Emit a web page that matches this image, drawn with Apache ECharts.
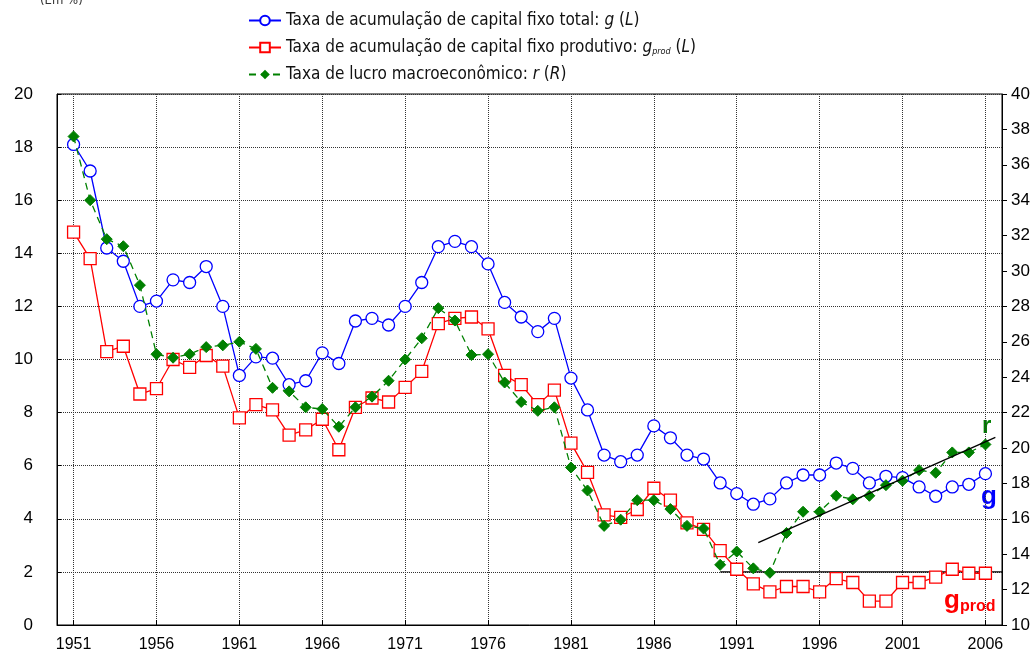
<!DOCTYPE html>
<html>
<head>
<meta charset="utf-8">
<script src="https://cdn.jsdelivr.net/npm/echarts@6/dist/echarts.min.js"></script>
<style>
  html, body { margin: 0; padding: 0; background: #fff; }
  #chart { width: 1034px; height: 658px; }
</style>
</head>
<body>
<div id="chart"></div>
<script>
// anos 1951-2006
var years = [];
for (var y = 1951; y <= 2006; y++) years.push(y);

// g : taxa de acumulação de capital fixo total (eixo esquerdo)
var gTotal = [18.1, 17.1, 14.2, 13.7, 12.0, 12.2, 13.0, 12.9, 13.5, 12.0,
  9.4, 10.1, 10.05, 9.05, 9.2, 10.25, 9.85, 11.45, 11.55, 11.3,
  12.0, 12.9, 14.25, 14.45, 14.25, 13.6, 12.15, 11.6, 11.05, 11.55,
  9.3, 8.1, 6.4, 6.15, 6.4, 7.5, 7.05, 6.4, 6.25, 5.35,
  4.95, 4.55, 4.75, 5.35, 5.65, 5.65, 6.1, 5.9, 5.35, 5.6,
  5.55, 5.2, 4.85, 5.2, 5.3, 5.7];

// g_prod : taxa de acumulação de capital fixo produtivo (eixo esquerdo)
var gProd = [14.8, 13.8, 10.3, 10.5, 8.7, 8.9, 10.0, 9.7, 10.15, 9.75,
  7.8, 8.3, 8.1, 7.15, 7.35, 7.75, 6.6, 8.2, 8.55, 8.4,
  8.95, 9.55, 11.35, 11.55, 11.6, 11.15, 9.4, 9.05, 8.3, 8.85,
  6.85, 5.75, 4.15, 4.05, 4.35, 5.15, 4.7, 3.85, 3.6, 2.8,
  2.1, 1.55, 1.25, 1.45, 1.45, 1.25, 1.75, 1.6, 0.9, 0.9,
  1.6, 1.6, 1.8, 2.1, 1.95, 1.95];

// r : taxa de lucro macroeconômico (eixo direito)
var rProfit = [37.6, 34.0, 31.8, 31.4, 29.2, 25.3, 25.1, 25.3, 25.7, 25.8,
  26.0, 25.6, 23.4, 23.2, 22.3, 22.2, 21.2, 22.3, 22.9, 23.8,
  25.0, 26.2, 27.9, 27.2, 25.25, 25.3, 23.7, 22.6, 22.1, 22.3,
  18.9, 17.6, 15.6, 15.95, 17.05, 17.05, 16.55, 15.6, 15.45, 13.4,
  14.15, 13.2, 12.95, 15.2, 16.4, 16.4, 17.3, 17.1, 17.3, 17.9,
  18.15, 18.75, 18.6, 19.75, 19.75, 20.2];

// retas de tendência
var rTrendX = [1992.3, 2006.6];
var rTrendY = [14.65, 20.6];
var gProdLevelX = [1990, 2007];
var gProdLevelY = [2, 2];

var leftTicks = { min: 0, max: 20, interval: 2 };
var rightTicks = { min: 10, max: 40, interval: 2 };

var categories = [];
for (var c = 1950; c <= 2007; c++) categories.push(String(c));

function pairs(vals) {
  return years.map(function (yr, i) { return [String(yr), vals[i]]; });
}
function xy(xs, ys) {
  return xs.map(function (x, i) { return [x, ys[i]]; });
}
var every5 = function (index, value) { return (Number(value) - 1951) % 5 === 0; };

var nameG = 'Taxa de acumulação de capital fixo total';
var nameP = 'Taxa de acumulação de capital fixo produtivo';
var nameR = 'Taxa de lucro macroeconômico';

var baseFont = 'Liberation Sans, Arial, sans-serif';
var narrowFont = 'Liberation Sans Narrow, Arial Narrow, DejaVu Sans Condensed, sans-serif';

var myChart = echarts.init(document.getElementById('chart'));
var option = {
  animation: false,
  backgroundColor: '#fff',
  grid: { left: 57, right: 32, top: 94, bottom: 33, show: true, borderColor: '#000', borderWidth: 1 },
  legend: {
    orient: 'vertical',
    left: 243,
    top: 7,
    itemWidth: 32,
    itemHeight: 12,
    itemGap: 10,
    data: [nameG, nameP, nameR],
    formatter: function (name) {
      if (name === nameG) return name + ': {i|g} ({i|L})';
      if (name === nameP) return name + ': {i|g}{s|prod} ({i|L})';
      return name + ': {i|r} ({i|R})';
    },
    textStyle: {
      fontFamily: narrowFont, fontSize: 17, color: '#111',
      rich: {
        i: { fontFamily: narrowFont, fontSize: 17, fontStyle: 'italic', color: '#111' },
        s: { fontFamily: narrowFont, fontSize: 9, fontStyle: 'italic', color: '#111', padding: [8, 0, 0, 0] }
      }
    }
  },
  graphic: [
    { type: 'text', left: 40, top: -6, style: { text: '(Em %)', font: '13px ' + narrowFont, fill: '#333' } },
    { type: 'text', left: 982, top: 414, style: { text: 'r', font: 'bold 24px ' + baseFont, fill: '#008000' } },
    { type: 'text', left: 981, top: 484, style: { text: 'g', font: 'bold 26px ' + baseFont, fill: '#0000ff' } },
    { type: 'text', left: 944, top: 588, style: {
        text: '{a|g}{b|prod}', fill: '#ff0000',
        rich: {
          a: { font: 'bold 26px ' + baseFont, fill: '#ff0000' },
          b: { font: 'bold 16px ' + baseFont, fill: '#ff0000', padding: [12, 0, 0, 0] }
        }
      } }
  ],
  xAxis: [
    {
      type: 'category',
      data: categories,
      boundaryGap: false,
      axisLine: { lineStyle: { color: '#000', width: 1 } },
      axisTick: { inside: true, length: 5, interval: every5, lineStyle: { color: '#000' } },
      axisLabel: { interval: every5, color: '#000', fontFamily: baseFont, fontSize: 16, margin: 12 },
      splitLine: { show: true, interval: every5, lineStyle: { color: '#333', type: 'dotted', width: 1 } }
    },
    { type: 'value', min: 1950, max: 2007, show: false }
  ],
  yAxis: [
    {
      type: 'value',
      min: leftTicks.min, max: leftTicks.max, interval: leftTicks.interval,
      axisLine: { show: true, lineStyle: { color: '#000' } },
      axisTick: { show: true, inside: true, length: 4, lineStyle: { color: '#000' } },
      axisLabel: { color: '#000', fontFamily: baseFont, fontSize: 17, margin: 24 },
      splitLine: { show: true, lineStyle: { color: '#333', type: 'dotted', width: 1 } }
    },
    {
      type: 'value',
      position: 'right',
      min: rightTicks.min, max: rightTicks.max, interval: rightTicks.interval,
      axisLine: { show: true, lineStyle: { color: '#000' } },
      axisTick: { show: true, inside: false, length: 5, lineStyle: { color: '#000' } },
      axisLabel: { color: '#000', fontFamily: baseFont, fontSize: 17, margin: 9 },
      splitLine: { show: false }
    }
  ],
  series: [
    {
      name: nameG, type: 'line', data: pairs(gTotal),
      symbol: 'circle', symbolSize: 12, showAllSymbol: true,
      lineStyle: { color: '#0000ff', width: 1.3 },
      itemStyle: { color: '#fff', borderColor: '#0000ff', borderWidth: 1.3 },
      z: 4
    },
    {
      name: nameP, type: 'line', data: pairs(gProd),
      symbol: 'rect', symbolSize: 12, showAllSymbol: true,
      lineStyle: { color: '#ff0000', width: 1.3 },
      itemStyle: { color: '#fff', borderColor: '#ff0000', borderWidth: 1.3 },
      z: 3
    },
    {
      name: nameR, type: 'line', yAxisIndex: 1, data: pairs(rProfit),
      symbol: 'diamond', symbolSize: 11, showAllSymbol: true,
      lineStyle: { color: '#008000', width: 1.3, type: [7, 5] },
      itemStyle: { color: '#008000', borderColor: '#008000' },
      z: 5
    },
    {
      name: 'tendência r', type: 'line', xAxisIndex: 1, yAxisIndex: 1,
      data: xy(rTrendX, rTrendY), symbol: 'none',
      lineStyle: { color: '#000', width: 1.3 }, z: 6, silent: true
    },
    {
      name: 'nível g_prod', type: 'line', xAxisIndex: 1, yAxisIndex: 0,
      data: xy(gProdLevelX, gProdLevelY), symbol: 'none',
      lineStyle: { color: '#000', width: 1.3 }, z: 2, silent: true
    }
  ]
};
myChart.setOption(option);
</script>
</body>
</html>
